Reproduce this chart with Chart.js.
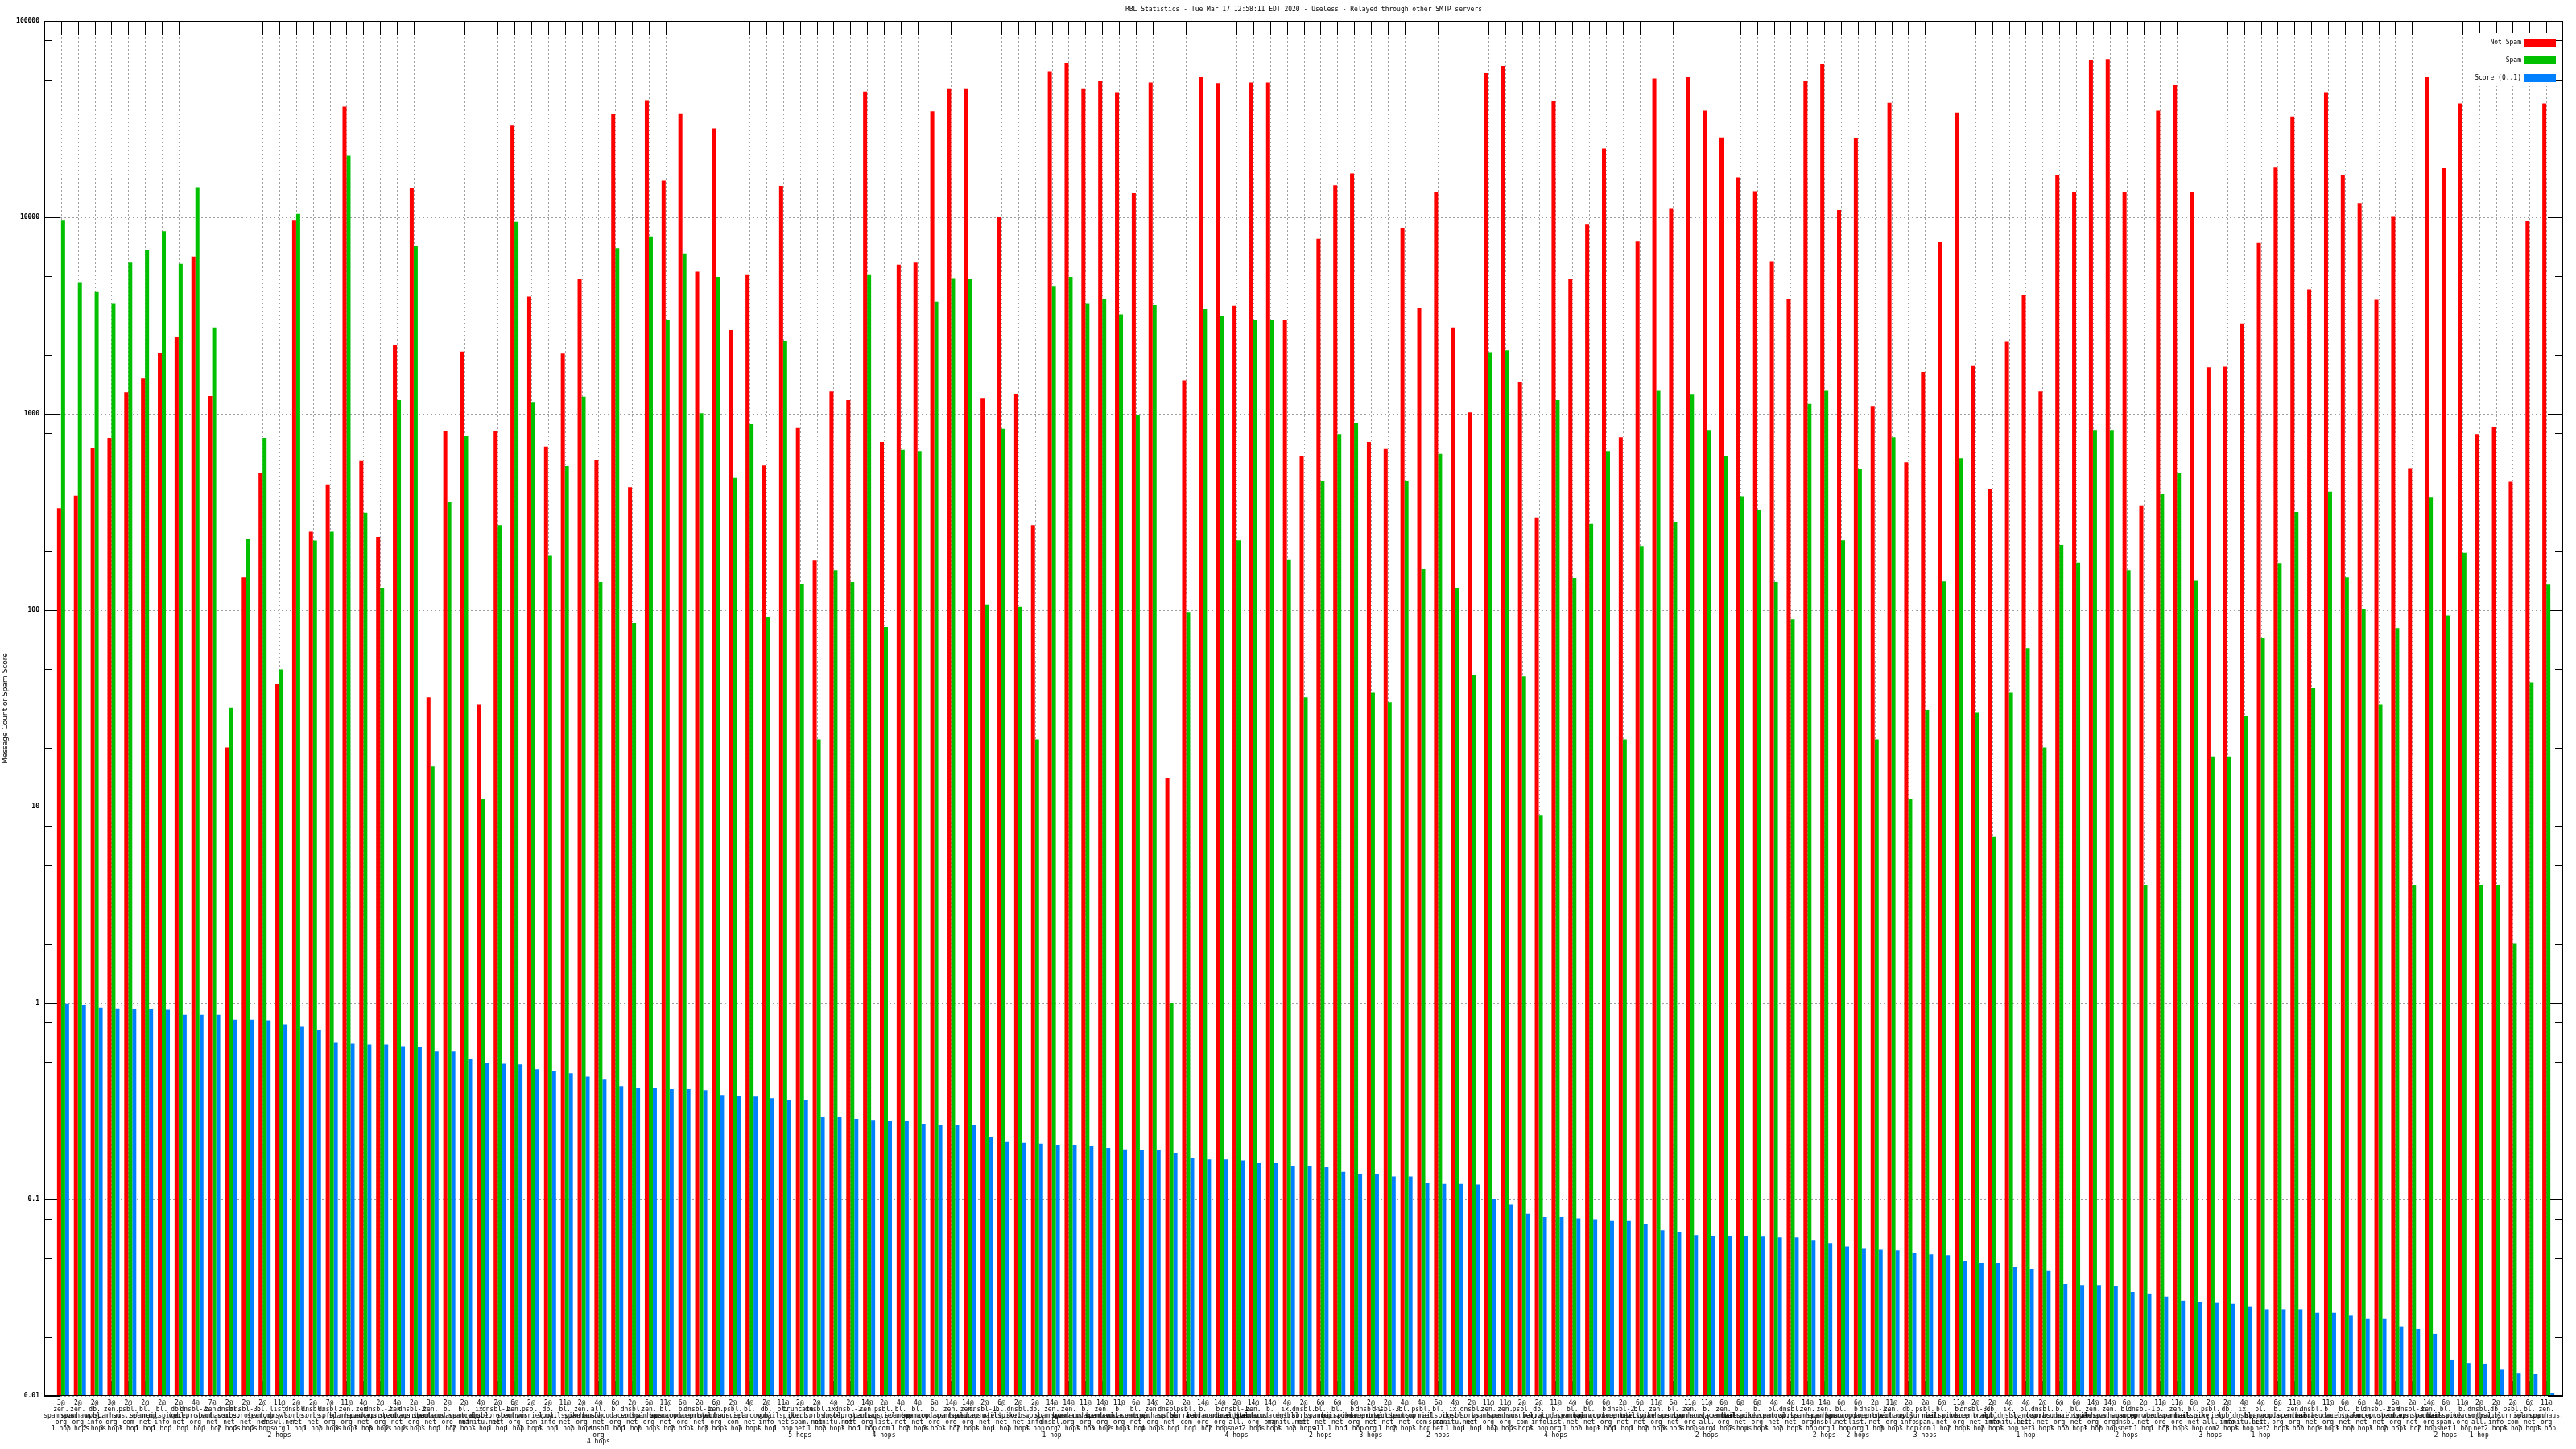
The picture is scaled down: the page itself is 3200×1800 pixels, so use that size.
<!DOCTYPE html>
<html>
<head>
<meta charset="utf-8">
<script src="https://cdn.jsdelivr.net/npm/chart.js@4.4.1/dist/chart.umd.min.js"></script>
<style>
  html, body { margin: 0; padding: 0; background: #fff; }
  canvas { display: block; }
</style>
</head>
<body>
<canvas id="rbl" width="3200" height="1800" style="width:3200px;height:1800px"></canvas>
<script>
// RBL statistics, gnuplot-style histogram redrawn with Chart.js

const titleText = 'RBL Statistics - Tue Mar 17 12:58:11 EDT 2020 - Useless - Relayed through other SMTP servers';
const yTitle = 'Message Count or Spam Score';
const seriesNames = ['Not Spam', 'Spam', 'Score (0..1)'];
const seriesColors = ['#ff0000', '#00c000', '#0080ff'];

const yTickValues = [0.01, 0.1, 1, 10, 100, 1000, 10000, 100000];
const yTickLabels = ['0.01', '0.1', '1', '10', '100', '1000', '10000', '100000'];
const yMinorSteps = [2, 5, 8];

// one entry per bar group, lines split on '|' (the originals overlap heavily)
const categories = [
    '3@|zen.|spamhaus.|org|1 hop', '2@|zen.|spamhaus.|org|2 hops', '2@|db.|wpbl.|info|2 hops', '3@|zen.|spamhaus.|org|3 hops', '2@|psbl.|surriel.|com|1 hop',
    '2@|bl.|spamcop.|net|1 hop', '2@|bl.|mailspike.|info|1 hop', '2@|dbl.|wpbl.|net|1 hop', '4@|dnsbl-2.|uceprotect.|org|1 hop', '7@|zen.|spamhaus.|net|1 hop',
    '2@|dnsbl.|sorbs.|net|2 hops', '2@|dnsbl-3.|uceprotect.|net|2 hops', '2@|bl.|spamcop.|net|2 hops', '11@|list.|dnswl.|dnswl.net|org|2 hops', '2@|dnsbl.|sorbs.|net|1 hop',
    '2@|dnsbl.|sorbs.|net|1 hop', '7@|dnsbl.|spfbl.|org|2 hops', '11@|zen.|spamhaus.|org|3 hops', '4@|zen.|spamhaus.|net|1 hop', '2@|dnsbl-2.|uceprotect.|org|3 hops',
    '4@|zen.|spamhaus.|net|2 hops', '2@|dnsbl-2.|uceprotect.|org|2 hops', '3@|zen.|spamhaus.|net|1 hop', '2@|b.|barracudacentral.|org|1 hop', '2@|bl.|spamcop.|net|2 hops',
    '4@|ix.|dnsbl.|manitu.net|1 hop', '2@|dnsbl-1.|uceprotect.|net|1 hop', '6@|zen.|spamhaus.|org|1 hop', '2@|psbl.|surriel.|com|2 hops', '2@|db.|wpbl.|info|1 hop',
    '11@|bl.|mailspike.|net|1 hop', '2@|zen.|spamhaus.|org|2 hops', '4@|all.|s5h.|net|dnsbl|org|4 hops', '6@|b.|barracudacentral.|org|1 hop', '2@|dnsbl.|sorbs.|net|1 hop',
    '6@|zen.|spamhaus.|org|2 hops', '11@|bl.|spamcop.|net|1 hop', '6@|b.|barracudacentral.|org|2 hops', '2@|dnsbl-1.|uceprotect.|net|1 hop', '6@|zen.|spamhaus.|org|3 hops',
    '2@|psbl.|surriel.|com|1 hop', '4@|bl.|spamcop.|net|2 hops', '2@|db.|wpbl.|info|1 hop', '11@|bl.|mailspike.|net|1 hop', '2@|truncate.|gbudb.|spam.|net|5 hops',
    '2@|dnsbl.|sorbs.|net|1 hop', '4@|ix.|dnsbl.|manitu.net|2 hops', '2@|dnsbl-2.|uceprotect.|net|1 hop', '14@|zen.|spamhaus.|org|1 hop', '2@|psbl.|surriel.|list.|com|4 hops',
    '4@|bl.|spamcop.|net|1 hop', '4@|bl.|spamcop.|net|2 hops', '6@|b.|barracudacentral.|org|3 hops', '14@|zen.|spamhaus.|org|1 hop', '14@|zen.|spamhaus.|org|2 hops',
    '2@|dnsbl-1.|uceprotect.|net|1 hop', '6@|bl.|mailspike.|net|1 hop', '2@|dnsbl.|sorbs.|net|2 hops', '2@|db.|wpbl.|info|1 hop', '14@|zen.|spamhaus.|dnsbl.|org|1 hop',
    '14@|zen.|spamhaus.|org|2 hops', '11@|b.|barracudacentral.|org|1 hop', '14@|zen.|spamhaus.|org|3 hops', '11@|b.|barracudacentral.|org|2 hops', '6@|bl.|spamcop.|net|1 hop',
    '14@|zen.|spamhaus.|org|4 hops', '2@|dnsbl.|spfbl.|net|1 hop', '2@|psbl.|surriel.|com|1 hop', '14@|b.|barracudacentral.|org|1 hop', '14@|b.|barracudacentral.|org|2 hops',
    '2@|dnsbl-1.|uceprotect.|all.|net|4 hops', '14@|zen.|spamhaus.|org|2 hops', '14@|b.|barracudacentral.|org|3 hops', '4@|ix.|dnsbl.|manitu.net|1 hop', '2@|dnsbl.|sorbs.|net|2 hops',
    '6@|bl.|spamcop.|net|all.|2 hops', '6@|bl.|mailspike.|net|1 hop', '6@|b.|barracudacentral.|org|1 hop', '2@|dnsbl-2.|uceprotect.|net|org|3 hops', '2@|dnsbl-3.|uceprotect.|net|1 hop',
    '4@|bl.|spamcop.|net|2 hops', '4@|psbl.|surriel.|com|1 hop', '6@|bl.|mailspike.|spam.|net|2 hops', '4@|ix.|dnsbl.|manitu.net|1 hop', '2@|dnsbl.|sorbs.|net|1 hop',
    '11@|zen.|spamhaus.|org|1 hop', '11@|zen.|spamhaus.|org|2 hops', '2@|psbl.|surriel.|com|2 hops', '2@|db.|wpbl.|info|1 hop', '11@|b.|barracudacentral.|list.|org|4 hops',
    '4@|bl.|spamcop.|net|1 hop', '6@|bl.|spamcop.|net|2 hops', '6@|b.|barracudacentral.|org|1 hop', '2@|dnsbl-2.|uceprotect.|net|1 hop', '6@|bl.|mailspike.|net|1 hop',
    '11@|zen.|spamhaus.|org|2 hops', '6@|bl.|spamcop.|net|3 hops', '11@|zen.|spamhaus.|org|3 hops', '11@|b.|barracudacentral.|all.|org|2 hops', '6@|zen.|spamhaus.|org|4 hops',
    '6@|bl.|mailspike.|net|2 hops', '6@|b.|barracudacentral.|org|4 hops', '4@|bl.|spamcop.|net|1 hop', '4@|dnsbl.|sorbs.|net|2 hops', '14@|zen.|spamhaus.|org|1 hop',
    '14@|zen.|spamhaus.|dnsbl.|org|2 hops', '6@|bl.|spamcop.|net|1 hop', '6@|b.|barracudacentral.|list.|org|2 hops', '2@|dnsbl-1.|uceprotect.|net|1 hop', '11@|zen.|spamhaus.|org|3 hops',
    '2@|db.|wpbl.|info|1 hop', '2@|psbl.|surriel.|spam.|com|3 hops', '6@|bl.|mailspike.|net|1 hop', '11@|b.|barracudacentral.|org|2 hops', '2@|dnsbl-3.|uceprotect.|net|1 hop',
    '2@|db.|wpbl.|info|2 hops', '4@|ix.|dnsbl.|manitu.net|1 hop', '4@|bl.|spamcop.|list.|net|1 hop', '2@|dnsbl.|sorbs.|net|3 hops', '6@|b.|barracudacentral.|org|1 hop',
    '6@|bl.|mailspike.|net|2 hops', '14@|zen.|spamhaus.|org|1 hop', '14@|zen.|spamhaus.|org|2 hops', '6@|bl.|spamcop.|dnsbl.|net|2 hops', '2@|dnsbl-1.|uceprotect.|net|1 hop',
    '11@|b.|barracudacentral.|org|1 hop', '11@|zen.|spamhaus.|org|3 hops', '6@|bl.|mailspike.|net|1 hop', '2@|psbl.|surriel.|all.|com|3 hops', '2@|db.|wpbl.|info|2 hops',
    '4@|ix.|dnsbl.|manitu.net|1 hop', '4@|bl.|spamcop.|list.|net|1 hop', '6@|b.|barracudacentral.|org|2 hops', '11@|zen.|spamhaus.|org|1 hop', '4@|dnsbl.|sorbs.|net|2 hops',
    '11@|b.|barracudacentral.|org|3 hops', '6@|bl.|mailspike.|net|1 hop', '6@|bl.|spamcop.|net|2 hops', '4@|dnsbl-2.|uceprotect.|net|1 hop', '6@|zen.|spamhaus.|org|2 hops',
    '2@|dnsbl-3.|uceprotect.|net|1 hop', '14@|zen.|spamhaus.|org|2 hops', '6@|bl.|mailspike.|spam.|net|2 hops', '11@|b.|barracudacentral.|org|1 hop', '2@|dnsbl.|sorbs.|all.|net|1 hop',
    '2@|db.|wpbl.|info|2 hops', '2@|psbl.|surriel.|com|1 hop', '6@|bl.|spamcop.|net|2 hops', '11@|zen.|spamhaus.|org|1 hop'
];

const notSpam = [
    331, 383, 666, 753, 1288, 1510, 2040, 2450, 6310, 1230,
    20, 147, 501, 42, 9700, 251, 437, 36600, 575, 236,
    2240, 14130, 36, 813, 2073, 33, 819, 29500, 3950, 681,
    2026, 4860, 584, 33600, 423, 39500, 15380, 33900, 5290, 28400,
    2670, 5130, 545, 14450, 845, 179, 1298, 1175, 43650, 719,
    5750, 5880, 34700, 45350, 45350, 1194, 10080, 1259, 271, 55400,
    61200, 45350, 49700, 43350, 13280, 48600, 14, 1479, 51650, 48250,
    3550, 48600, 48600, 3020, 607, 7760, 14560, 16720, 719, 661,
    8850, 3467, 13390, 2754, 1016, 54100, 58900, 1457, 297, 39200,
    4860, 9260, 22400, 759, 7590, 50900, 11050, 51650, 34930, 25500,
    15970, 13600, 5980, 3830, 49350, 60250, 10880, 25300, 1096, 38300,
    566, 1634, 7470, 34150, 1750, 414, 2326, 4045, 1298, 16350,
    13390, 63550, 64100, 13390, 342, 34930, 47100, 13390, 1725, 1738,
    2884, 7410, 17900, 32600, 4300, 43350, 16350, 11830, 3800, 10150,
    529, 51650, 17780, 38000, 788, 851, 450, 9620, 38000
];

const spam = [
    9700, 4680, 4170, 3630, 5880, 6810, 8500, 5800, 14230, 2750,
    32, 231, 753, 50, 10400, 226, 251, 20600, 314, 130,
    1175, 7130, 16, 357, 770, 11, 271, 9480, 1148, 189,
    541, 1222, 139, 6970, 86, 8000, 2998, 6560, 1008, 4970,
    471, 885, 92, 2340, 136, 22, 160, 139, 5130, 82,
    656, 646, 3720, 4900, 4860, 107, 838, 104, 22, 4470,
    4970, 3630, 3830, 3210, 985, 3575, 1, 98, 3414, 3140,
    227, 2998, 2998, 180, 36, 454, 788, 898, 38, 34,
    454, 162, 626, 129, 47, 2057, 2105, 46, 9, 1175,
    146, 275, 646, 22, 212, 1309, 280, 1250, 826, 612,
    380, 324, 139, 90, 1122, 1309, 227, 521, 22, 759,
    11, 31, 140, 593, 30, 7, 38, 64, 20, 215,
    175, 826, 826, 160, 4, 389, 501, 141, 18, 18,
    29, 72, 174, 316, 40, 401, 147, 102, 33, 81,
    4, 374, 94, 196, 4, 4, 2, 43, 135
];

const score = [
    0.994, 0.975, 0.948, 0.939, 0.930, 0.930, 0.922, 0.871, 0.871, 0.871,
    0.823, 0.823, 0.816, 0.778, 0.757, 0.729, 0.627, 0.621, 0.615, 0.615,
    0.604, 0.598, 0.566, 0.566, 0.520, 0.496, 0.491, 0.487, 0.460, 0.451,
    0.439, 0.422, 0.411, 0.377, 0.370, 0.370, 0.364, 0.364, 0.360, 0.340,
    0.337, 0.334, 0.328, 0.322, 0.322, 0.264, 0.264, 0.257, 0.254, 0.250,
    0.250, 0.243, 0.240, 0.238, 0.238, 0.209, 0.196, 0.194, 0.192, 0.190,
    0.190, 0.188, 0.183, 0.180, 0.178, 0.178, 0.173, 0.162, 0.160, 0.160,
    0.158, 0.153, 0.153, 0.148, 0.148, 0.146, 0.138, 0.135, 0.134, 0.131,
    0.131, 0.121, 0.120, 0.120, 0.119, 0.100, 0.094, 0.0846, 0.0812, 0.0812,
    0.0802, 0.0793, 0.0776, 0.0776, 0.0749, 0.0697, 0.0684, 0.0659, 0.0653, 0.0653,
    0.0653, 0.0647, 0.0640, 0.0640, 0.0622, 0.0599, 0.0576, 0.0565, 0.0555, 0.0550,
    0.0535, 0.0525, 0.0520, 0.0488, 0.0474, 0.0474, 0.0453, 0.0440, 0.0433, 0.0371,
    0.0367, 0.0367, 0.0364, 0.0338, 0.0332, 0.0320, 0.0305, 0.0299, 0.0297, 0.0294,
    0.0286, 0.0276, 0.0276, 0.0276, 0.0265, 0.0265, 0.0256, 0.0248, 0.0248, 0.0226,
    0.0219, 0.0207, 0.0153, 0.0147, 0.0146, 0.0136, 0.0130, 0.0129, 0.0103
];

const monoFont = '"DejaVu Sans Mono", "Liberation Mono", monospace';

const toPoints = arr => arr.map((v, i) => ({ x: i, y: v }));

// === FRAME, GRID, TICKS, LEGEND ===

const gnuFrame = {
    id: 'gnuFrame',
    beforeDatasetsDraw: function (chart) {
        const { ctx, chartArea: a, scales: { x, y } } = chart;
        ctx.save();
        ctx.lineWidth = 1;

        // dotted grid
        ctx.strokeStyle = '#a0a0a0';
        ctx.setLineDash([2, 3]);
        ctx.beginPath();
        categories.forEach((c, i) => {
            const px = Math.round(x.getPixelForValue(i)) + 0.5;
            ctx.moveTo(px, a.top);
            ctx.lineTo(px, a.bottom);
        });
        yTickValues.forEach(v => {
            const py = Math.round(y.getPixelForValue(v)) + 0.5;
            ctx.moveTo(a.left, py);
            ctx.lineTo(a.right, py);
        });
        ctx.stroke();

        // tick marks, pointing inward on all four sides
        ctx.setLineDash([]);
        ctx.strokeStyle = '#000';
        ctx.beginPath();
        categories.forEach((c, i) => {
            const px = Math.round(x.getPixelForValue(i)) + 0.5;
            ctx.moveTo(px, a.top);
            ctx.lineTo(px, a.top + 18);
            ctx.moveTo(px, a.bottom);
            ctx.lineTo(px, a.bottom - 18);
        });
        yTickValues.forEach((v, k) => {
            const py = Math.round(y.getPixelForValue(v)) + 0.5;
            ctx.moveTo(a.left, py);
            ctx.lineTo(a.left + 19, py);
            ctx.moveTo(a.right, py);
            ctx.lineTo(a.right - 19, py);
            if (k < yTickValues.length - 1) {
                yMinorSteps.forEach(m => {
                    const pm = Math.round(y.getPixelForValue(v * m)) + 0.5;
                    ctx.moveTo(a.left, pm);
                    ctx.lineTo(a.left + 10, pm);
                    ctx.moveTo(a.right, pm);
                    ctx.lineTo(a.right - 10, pm);
                });
            }
        });
        ctx.stroke();
        ctx.restore();
    },
    afterDatasetsDraw: function (chart) {
        const { ctx, chartArea: a } = chart;
        ctx.save();

        // key box, top right inside the plot
        ctx.fillStyle = '#fff';
        ctx.fillRect(a.right - 116, a.top + 15, 106, 66);
        ctx.font = '8px ' + monoFont;
        ctx.textAlign = 'right';
        ctx.textBaseline = 'middle';
        seriesNames.forEach((name, k) => {
            const ry = a.top + 27 + k * 22;
            ctx.fillStyle = '#000';
            ctx.fillText(name, a.right - 52, ry);
            ctx.fillStyle = seriesColors[k];
            ctx.fillRect(a.right - 48, ry - 5, 39, 10);
        });

        // border
        ctx.strokeStyle = '#000';
        ctx.lineWidth = 1;
        ctx.strokeRect(a.left + 0.5, a.top + 0.5, a.right - a.left - 1, a.bottom - a.top - 1);

        // title
        ctx.fillStyle = '#000';
        ctx.textAlign = 'center';
        ctx.fillText(titleText, (a.left + a.right) / 2, 12);

        // y axis title
        ctx.font = '9px "DejaVu Sans", sans-serif';
        ctx.translate(7, (a.top + a.bottom) / 2);
        ctx.rotate(-Math.PI / 2);
        ctx.fillText(yTitle, 0, 0);
        ctx.restore();
    }
};

// === CHART ===

const ctx = document.getElementById('rbl').getContext('2d');
new Chart(ctx, {
    type: 'bar',
    data: {
        datasets: [
            // empty slot so the three real bars sit just right of each tick, as gnuplot puts them
            { label: '', data: [], backgroundColor: 'rgba(0,0,0,0)' },
            { label: seriesNames[0], data: toPoints(notSpam), backgroundColor: seriesColors[0] },
            { label: seriesNames[1], data: toPoints(spam), backgroundColor: seriesColors[1] },
            { label: seriesNames[2], data: toPoints(score), backgroundColor: seriesColors[2] }
        ]
    },
    options: {
        responsive: false,
        animation: false,
        devicePixelRatio: 1,
        layout: { padding: { left: 0, right: 16, top: 26, bottom: 0 } },
        datasets: {
            bar: { categoryPercentage: 0.9588, barPercentage: 1.0, borderWidth: 0 }
        },
        plugins: {
            legend: { display: false },
            title: { display: false },
            tooltip: { enabled: false }
        },
        scales: {
            x: {
                type: 'linear',
                min: -1,
                max: 149,
                offset: false,
                grid: { display: false, drawTicks: false },
                border: { display: false },
                afterBuildTicks: s => { s.ticks = categories.map((c, i) => ({ value: i })); },
                afterFit: s => { s.height = 66; s.paddingLeft = 0; s.paddingRight = 0; },
                ticks: {
                    autoSkip: false,
                    maxRotation: 0,
                    minRotation: 0,
                    padding: 5,
                    color: '#000',
                    font: { family: monoFont, size: 8, lineHeight: 1 },
                    callback: v => (categories[v] || '').split('|')
                }
            },
            y: {
                type: 'logarithmic',
                min: 0.01,
                max: 100000,
                grid: { display: false, drawTicks: false },
                border: { display: false },
                afterBuildTicks: s => { s.ticks = yTickValues.map(v => ({ value: v })); },
                afterFit: s => { s.width = 55; s.paddingTop = 0; s.paddingBottom = 0; },
                ticks: {
                    autoSkip: false,
                    padding: 6,
                    color: '#000',
                    font: { family: monoFont, size: 8, weight: 'bold' },
                    callback: (v, idx) => yTickLabels[idx]
                }
            }
        }
    },
    plugins: [gnuFrame]
});
</script>
</body>
</html>
